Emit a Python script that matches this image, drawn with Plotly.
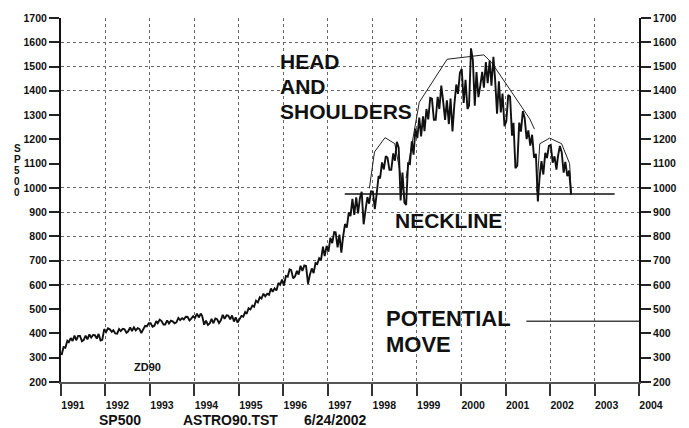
import plotly.graph_objects as go

# S&P 500 monthly high / low, Jan 1991 .. Jun 2002
monthly_high = [
    344, 370, 381, 391, 390, 390, 391, 396, 394, 393, 398, 418,          # 1991
    421, 417, 413, 418, 419, 417, 425, 425, 422, 419, 431, 442,          # 1992
    442, 451, 457, 451, 454, 453, 450, 464, 463, 469, 468, 471,          # 1993
    482, 482, 472, 453, 460, 462, 459, 477, 475, 474, 474, 466,          # 1994
    472, 488, 504, 515, 535, 549, 564, 564, 585, 586, 608, 622,          # 1995
    637, 664, 661, 658, 679, 680, 678, 668, 690, 710, 758, 761,          # 1996
    794, 818, 817, 807, 851, 899, 955, 961, 960, 984, 962, 986,          # 1997
    985, 1049, 1105, 1131, 1124, 1142, 1190, 1166, 1063, 1101, 1192, 1244,  # 1998
    1290, 1295, 1325, 1371, 1368, 1375, 1421, 1357, 1361, 1368, 1426, 1474,  # 1999
    1490, 1445, 1575, 1528, 1477, 1478, 1518, 1525, 1540, 1447, 1439, 1389,  # 2000
    1383, 1376, 1268, 1269, 1316, 1287, 1237, 1219, 1140, 1110, 1144, 1173,  # 2001
    1177, 1130, 1173, 1147, 1107, 1071,                                    # 2002
]
monthly_low = [
    311, 341, 364, 369, 372, 368, 373, 376, 383, 379, 371, 374,
    406, 407, 400, 399, 410, 403, 409, 410, 413, 402, 417, 429,
    428, 432, 442, 437, 437, 441, 442, 446, 455, 458, 454, 461,
    464, 466, 436, 435, 441, 442, 443, 454, 460, 458, 449, 445,
    458, 469, 481, 499, 510, 528, 544, 553, 559, 572, 577, 601,
    597, 634, 627, 635, 643, 658, 605, 641, 649, 686, 703, 719,
    737, 772, 755, 733, 798, 836, 884, 889, 895, 850, 906, 935,
    912, 975, 1039, 1076, 1074, 1074, 1112, 948, 939, 930, 1098, 1137,
    1205, 1212, 1234, 1282, 1281, 1281, 1325, 1280, 1263, 1233, 1342, 1387,
    1350, 1325, 1339, 1339, 1374, 1420, 1413, 1431, 1421, 1306, 1311, 1254,
    1274, 1215, 1081, 1091, 1232, 1201, 1174, 1124, 944, 1042, 1055, 1123,
    1104, 1075, 1129, 1063, 1048, 972,
]
start_year = 1991

# hand drawn head & shoulders outline (None = pen up)
outline_dates = [
    "1997-12-08", "1998-01-19", "1998-04-16", "1998-07-05", "1998-09-20", None,
    "1998-10-05", "1999-01-22", "1999-09-08", "2000-07-05", "2000-09-08", "2001-07-18", "2001-08-25", None,
    "2001-09-13", "2001-10-08", "2001-12-28", "2002-04-05", "2002-06-10", "2002-06-24",
]
outline_values = [
    998, 1148, 1207, 1182, 973, None,
    1040, 1353, 1530, 1548, 1516, 1284, 1242, None,
    985, 1182, 1205, 1182, 1100, 978,
]

neckline_dates = ["1997-05-20", "2003-06-15"]
neckline_values = [975, 975]

move_dates = ["2001-06-20", "2004-01-01"]
move_values = [450, 450]

year_ticks = list(range(1991, 2005))
price_ticks = list(range(200, 1800, 100))
grid_levels = [600, 700, 800, 900, 1000, 1400, 1500, 1600, 1700]

# zig-zag through each month's low and high
px_dates, px_values = [], []
for i, (hi, lo) in enumerate(zip(monthly_high, monthly_low)):
    yr = start_year + i // 12
    mo = i % 12 + 1
    prev_mid = (monthly_high[i - 1] + monthly_low[i - 1]) / 2 if i else lo
    if (hi + lo) / 2 >= prev_mid:
        pair = [lo, hi]
    else:
        pair = [hi, lo]
    px_dates += [f"{yr}-{mo:02d}-06", f"{yr}-{mo:02d}-22"]
    px_values += pair

FONT = "Liberation Sans, Arial, sans-serif"
rng = [200, 1700]

fig = go.Figure()
fig.add_trace(go.Scatter(x=px_dates, y=px_values, mode="lines",
                         line=dict(color="#111", width=1.9), yaxis="y3"))
fig.add_trace(go.Scatter(x=outline_dates, y=outline_values, mode="lines",
                         line=dict(color="#222", width=1), connectgaps=False))
fig.add_trace(go.Scatter(x=neckline_dates, y=neckline_values, mode="lines",
                         line=dict(color="#111", width=1.5)))
fig.add_trace(go.Scatter(x=move_dates, y=move_values, mode="lines",
                         line=dict(color="#444", width=1.5), yaxis="y2"))

W, H = 689, 428
L, R, T, B = 61, 46, 15, 46


def paper(x, y):
    return (x - L) / (W - L - R), 1 - (y - T) / (H - T - B)


def label(text, x, y, size, anchor="left"):
    px_, py_ = paper(x, y)
    fig.add_annotation(text=text, x=px_, y=py_, xref="paper", yref="paper",
                       xanchor=anchor, yanchor="middle", showarrow=False,
                       font=dict(family=FONT, size=size, color="#111", weight="bold"))


label("HEAD", 279, 59, 21)
label("AND", 279, 84, 21)
label("SHOULDERS", 279, 109, 21)
label("NECKLINE", 395, 219, 21)
label("POTENTIAL", 386, 318, 22)
label("MOVE", 386, 344, 22)
label("ZD90", 132, 367, 11)
label("SP500", 97, 420, 14)
label("ASTRO90.TST", 182, 420, 14)
label("6/24/2002", 304, 420, 14)
# vertical axis title, one letter per row
for k, ch in enumerate("SP500"):
    label(ch, 17, 147 + 11 * k, 10, anchor="center")

tickfont = dict(family=FONT, size=10.5, color="#111", weight="bold")
fig.update_layout(
    width=W, height=H,
    margin=dict(l=L, r=R, t=T, b=B),
    paper_bgcolor="white", plot_bgcolor="white",
    showlegend=False,
    xaxis=dict(type="date", range=["1991-01-01", "2004-01-01"],
               tickvals=[f"{y}-01-01" for y in year_ticks],
               ticktext=[str(y) for y in year_ticks],
               ticks="outside", ticklen=12, tickwidth=1.5, tickcolor="#333",
               ticklabelshift=12, ticklabelstandoff=0,
               showline=True, linecolor="#555", linewidth=2,
               showgrid=True, gridcolor="#666", gridwidth=1, griddash="dot",
               tickfont=tickfont, zeroline=False),
    yaxis=dict(range=rng, tickvals=price_ticks, ticks="outside", ticklen=10,
               tickwidth=1.5, tickcolor="#222", showline=True, linecolor="#111",
               linewidth=2, showgrid=False, zeroline=False, tickfont=tickfont),
    yaxis2=dict(range=rng, tickvals=price_ticks, overlaying="y", side="right",
                ticks="outside", ticklen=10, tickwidth=1.5, tickcolor="#222",
                showline=True, linecolor="#111", linewidth=2, showgrid=False,
                zeroline=False, tickfont=tickfont),
    yaxis3=dict(range=rng, tickvals=grid_levels, overlaying="y",
                showticklabels=False, ticks="", showline=False,
                showgrid=True, gridcolor="#666", gridwidth=1, griddash="dot",
                zeroline=False),
)

# page body has a default 8px margin; remove it so the figure fills the window
fig.write_html("out.html", config={"displayModeBar": False},
               post_script="document.body.style.margin='0';")
